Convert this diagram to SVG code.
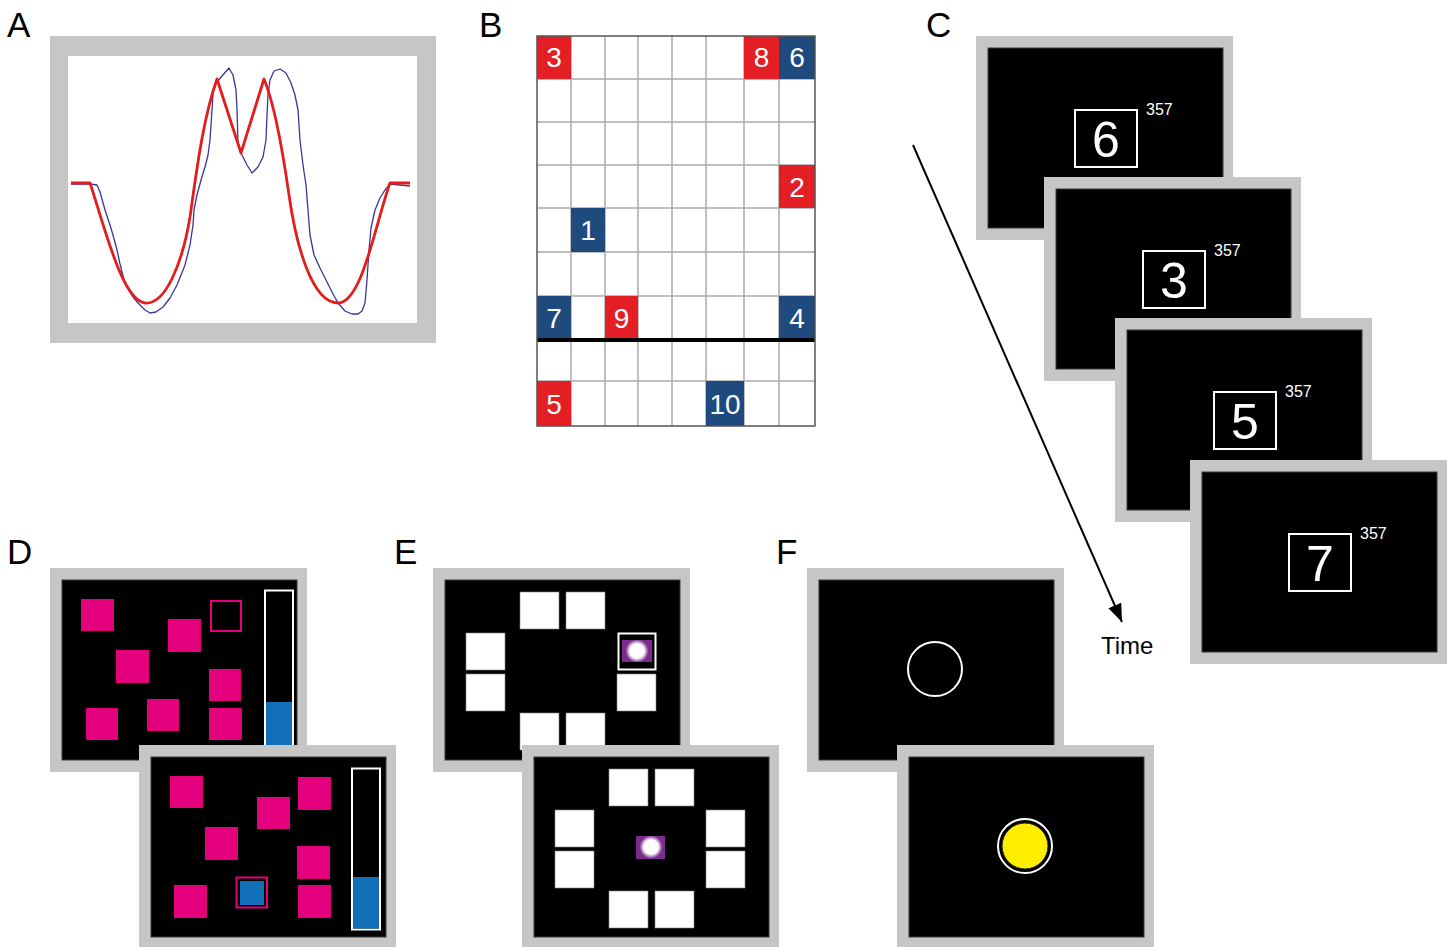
<svg xmlns="http://www.w3.org/2000/svg" width="1450" height="947" viewBox="0 0 1450 947">
<defs>
<style>
.lbl{font-family:"Liberation Sans",Arial,sans-serif;font-size:35px;fill:#000}
.frame{fill:#c6c6c6}
.scr{fill:#000;stroke:#3a3a3a;stroke-width:1}
.cellt{font-family:"Liberation Sans",Arial,sans-serif;font-size:28px;fill:#fff;text-anchor:middle}
.red{fill:#e31e24}
.blue{fill:#1f4a7e}
.grid{stroke:#aaaaaa;stroke-width:1.5;fill:none}
.digbox{fill:none;stroke:#fff;stroke-width:2}
.dig{font-family:"Liberation Sans",Arial,sans-serif;font-size:50px;fill:#fff;text-anchor:middle}
.sm{font-family:"Liberation Sans",Arial,sans-serif;font-size:16px;fill:#fff}
.pink{fill:#e4007c}
.bar{fill:#000;stroke:#fff;stroke-width:2}
.barfill{fill:#1170b8}
.wsq{fill:#fff;stroke:#888;stroke-width:0.6}
.purp{fill:#7b2a8e}
</style>
<radialGradient id="glow" cx="0.5" cy="0.5" r="0.5">
<stop offset="0" stop-color="#fff"/>
<stop offset="0.62" stop-color="#fff"/>
<stop offset="1" stop-color="#fff" stop-opacity="0"/>
</radialGradient>
<marker id="ah" markerUnits="userSpaceOnUse" markerWidth="20" markerHeight="14" refX="18" refY="7" orient="auto">
<path d="M0,0 L18,7 L0,14 z" fill="#000"/>
</marker>
</defs>
<rect width="1450" height="947" fill="#fff"/>

<!-- Panel A -->
<g id="panelA">
<text class="lbl" x="7" y="37">A</text>
<rect class="frame" x="50" y="36" width="386" height="307"/>
<rect x="68" y="56" width="349" height="267" fill="#fff"/>
<polyline fill="none" stroke="#3b3597" stroke-width="1.3" stroke-linejoin="round" points="71,184 90,184 97,185 100,192 105,210 110,225 113,235 117,250 120,264 124,280 128,289 133,297 138,303 145,310 150,313 156,312 163,307 170,298 177,285 185,265 190,245 193,225 194,210 197,195 201,180 205,167 208,155 210,140 212,110 213,93 216,83 222,76 229,68 233,75 236,90 237,110 238,143 242,155 247,165 252,173 258,167 263,157 266,140 267,115 268,95 270,80 274,71 280,69 286,73 291,83 295,95 298,110 300,140 303,165 306,185 308,210 310,235 314,255 320,268 326,280 332,292 338,303 345,311 352,314 358,314 362,311 365,303 367,280 369,250 371,228 375,210 380,198 385,190 390,184 410,186"/>
<path fill="none" stroke="#e41c1c" stroke-width="2.8" stroke-linejoin="round" d="M71,183 L90,183 C105,228 122,300 145,303 C165,305 182,265 190,217 C196,175 203,118 217,79 L241,153 L264,79 C275,105 284,160 289,195 C296,245 312,303 338,303 C362,303 375,225 390,183 L410,183"/>
</g>

<!-- Panel B -->
<g id="panelB">
<text class="lbl" x="479" y="37">B</text>
<rect x="537" y="36" width="278" height="390" fill="#fff"/>
<g class="grid">
<line x1="571" y1="36" x2="571" y2="426"/>
<line x1="605" y1="36" x2="605" y2="426"/>
<line x1="638" y1="36" x2="638" y2="426"/>
<line x1="672" y1="36" x2="672" y2="426"/>
<line x1="706" y1="36" x2="706" y2="426"/>
<line x1="744" y1="36" x2="744" y2="426"/>
<line x1="779" y1="36" x2="779" y2="426"/>
<line x1="537" y1="79" x2="815" y2="79"/>
<line x1="537" y1="122" x2="815" y2="122"/>
<line x1="537" y1="165" x2="815" y2="165"/>
<line x1="537" y1="208" x2="815" y2="208"/>
<line x1="537" y1="252" x2="815" y2="252"/>
<line x1="537" y1="296" x2="815" y2="296"/>
<line x1="537" y1="381" x2="815" y2="381"/>
</g>
<rect class="red" x="537" y="36" width="34" height="43"/>
<rect class="red" x="744" y="36" width="35" height="43"/>
<rect class="blue" x="779" y="36" width="36" height="43"/>
<rect class="red" x="779" y="165" width="36" height="43"/>
<rect class="blue" x="571" y="208" width="34" height="44"/>
<rect class="blue" x="537" y="296" width="34" height="44"/>
<rect class="red" x="605" y="296" width="33" height="44"/>
<rect class="blue" x="779" y="296" width="36" height="44"/>
<rect class="red" x="537" y="381" width="34" height="45"/>
<rect class="blue" x="706" y="381" width="38" height="45"/>
<text class="cellt" x="554" y="67">3</text>
<text class="cellt" x="761.5" y="67">8</text>
<text class="cellt" x="797" y="67">6</text>
<text class="cellt" x="797" y="196.5">2</text>
<text class="cellt" x="588" y="240">1</text>
<text class="cellt" x="554" y="328">7</text>
<text class="cellt" x="621.5" y="328">9</text>
<text class="cellt" x="797" y="328">4</text>
<text class="cellt" x="554" y="413.5">5</text>
<text class="cellt" x="725" y="413.5">10</text>
<line x1="537" y1="340" x2="815" y2="340" stroke="#000" stroke-width="4"/>
<rect x="537" y="36" width="278" height="390" fill="none" stroke="#555" stroke-width="1.5"/>
</g>

<!-- Panel C -->
<g id="panelC">
<text class="lbl" x="926" y="37">C</text>
<g id="c1">
<rect class="frame" x="976" y="36" width="257" height="204"/>
<rect class="scr" x="988" y="48" width="235" height="180"/>
<rect class="digbox" x="1075" y="110" width="62" height="57"/>
<text class="dig" x="1106" y="157">6</text>
<text class="sm" x="1146" y="115">357</text>
</g>
<g id="c2">
<rect class="frame" x="1044" y="177" width="257" height="204"/>
<rect class="scr" x="1056" y="189" width="235" height="180"/>
<rect class="digbox" x="1143" y="251" width="62" height="57"/>
<text class="dig" x="1174" y="298">3</text>
<text class="sm" x="1214" y="256">357</text>
</g>
<g id="c3">
<rect class="frame" x="1115" y="318" width="257" height="204"/>
<rect class="scr" x="1127" y="330" width="235" height="180"/>
<rect class="digbox" x="1214" y="392" width="62" height="57"/>
<text class="dig" x="1245" y="439">5</text>
<text class="sm" x="1285" y="397">357</text>
</g>
<g id="c4">
<rect class="frame" x="1190" y="460" width="257" height="204"/>
<rect class="scr" x="1202" y="472" width="235" height="180"/>
<rect class="digbox" x="1289" y="534" width="62" height="57"/>
<text class="dig" x="1320" y="581">7</text>
<text class="sm" x="1360" y="539">357</text>
</g>
<text id="time" x="1101" y="654" font-family="Liberation Sans, Arial, sans-serif" font-size="24" fill="#000">Time</text>
</g>

<!-- Panel D -->
<g id="panelD">
<text class="lbl" x="7" y="564">D</text>
<g id="d1">
<rect class="frame" x="50" y="568" width="257" height="204"/>
<rect class="scr" x="62" y="580" width="235" height="180"/>
<rect class="pink" x="81" y="599" width="33" height="32"/>
<rect class="pink" x="168" y="619" width="33" height="33"/>
<rect class="pink" x="116" y="650" width="33" height="33"/>
<rect class="pink" x="209" y="669" width="32" height="32"/>
<rect class="pink" x="86" y="708" width="32" height="32"/>
<rect class="pink" x="147" y="699" width="32" height="32"/>
<rect class="pink" x="209" y="708" width="33" height="32"/>
<rect x="211" y="601" width="30" height="30" fill="none" stroke="#e4007c" stroke-width="2"/>
<rect class="bar" x="265" y="590.5" width="28" height="162"/>
<rect class="barfill" x="266" y="702" width="26" height="50"/>
</g>
<g id="d2">
<rect class="frame" x="139" y="745" width="257" height="204"/>
<rect class="scr" x="151" y="757" width="235" height="180"/>
<rect class="pink" x="170" y="776" width="33" height="32"/>
<rect class="pink" x="257" y="797" width="33" height="32"/>
<rect class="pink" x="298" y="777" width="33" height="33"/>
<rect class="pink" x="205" y="827" width="33" height="33"/>
<rect class="pink" x="297" y="846" width="33" height="33"/>
<rect class="pink" x="174" y="885" width="33" height="33"/>
<rect class="pink" x="298" y="885" width="33" height="33"/>
<rect x="236.5" y="877.5" width="30.5" height="30" fill="none" stroke="#e4007c" stroke-width="2"/>
<rect class="barfill" x="240" y="881" width="24" height="24"/>
<rect class="bar" x="352" y="768.5" width="28" height="161"/>
<rect class="barfill" x="353" y="877" width="26" height="51.5"/>
</g>
</g>

<!-- Panel E -->
<g id="panelE">
<text class="lbl" x="394" y="564">E</text>
<g id="e1">
<rect class="frame" x="433" y="568" width="257" height="204"/>
<rect class="scr" x="445" y="580" width="235" height="180"/>
<rect class="wsq" x="520" y="592" width="39" height="37"/>
<rect class="wsq" x="566" y="592" width="39" height="37"/>
<rect class="wsq" x="466" y="633" width="39" height="37"/>
<rect class="wsq" x="466" y="674" width="39" height="37"/>
<rect x="618.5" y="633.5" width="37" height="36" fill="#000" stroke="#fff" stroke-width="2"/>
<rect class="purp" x="622" y="640" width="30" height="22"/>
<circle cx="637" cy="651" r="11.5" fill="url(#glow)"/>
<rect class="wsq" x="617" y="674" width="39" height="37"/>
<rect class="wsq" x="520" y="713" width="39" height="37"/>
<rect class="wsq" x="566" y="713" width="39" height="37"/>
</g>
<g id="e2">
<rect class="frame" x="522" y="745" width="257" height="204"/>
<rect class="scr" x="534" y="757" width="235" height="180"/>
<rect class="wsq" x="609" y="769" width="39" height="37"/>
<rect class="wsq" x="655" y="769" width="39" height="37"/>
<rect class="wsq" x="555" y="810" width="39" height="37"/>
<rect class="wsq" x="555" y="851" width="39" height="37"/>
<rect class="wsq" x="706" y="810" width="39" height="37"/>
<rect class="wsq" x="706" y="851" width="39" height="37"/>
<rect class="wsq" x="609" y="891" width="39" height="37"/>
<rect class="wsq" x="655" y="891" width="39" height="37"/>
<rect class="purp" x="636" y="836" width="29" height="23"/>
<circle cx="651" cy="847" r="11.5" fill="url(#glow)"/>
</g>
</g>

<!-- Panel F -->
<g id="panelF">
<text class="lbl" x="776" y="564">F</text>
<g id="f1">
<rect class="frame" x="807" y="568" width="257" height="204"/>
<rect class="scr" x="819" y="580" width="235" height="180"/>
<circle cx="935" cy="669" r="27" fill="none" stroke="#fff" stroke-width="2"/>
</g>
<g id="f2">
<rect class="frame" x="897" y="745" width="257" height="204"/>
<rect class="scr" x="909" y="757" width="235" height="180"/>
<circle cx="1025" cy="846" r="27" fill="none" stroke="#fff" stroke-width="2"/>
<circle cx="1025" cy="846" r="23" fill="#ffee00" stroke="#222" stroke-width="1"/>
</g>
</g>

<!-- Connectors -->
<g id="connectors">
<line x1="913" y1="145" x2="1122" y2="622" stroke="#000" stroke-width="2" marker-end="url(#ah)"/>
</g>
</svg>
